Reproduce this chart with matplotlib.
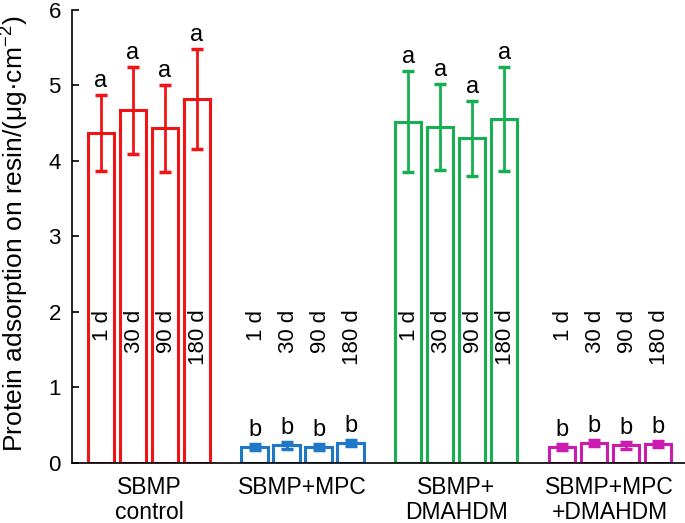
import numpy as np
import matplotlib
matplotlib.use('Agg')
import matplotlib.pyplot as plt

plt.rcParams['font.family'] = ['Liberation Sans', 'DejaVu Sans']
plt.rcParams['mathtext.default'] = 'regular'

# datos
grupos = ['SBMP\ncontrol', 'SBMP+MPC', 'SBMP+\nDMAHDM', 'SBMP+MPC\n+DMAHDM']
dias = ['1 d', '30 d', '90 d', '180 d']
colores = ['#F01414', '#1F77C8', '#17B050', '#CC1BB0']
medias = [
    [4.37, 4.67, 4.43, 4.82],
    [0.21, 0.23, 0.21, 0.26],
    [4.52, 4.45, 4.30, 4.56],
    [0.21, 0.26, 0.23, 0.25],
]
errores = [
    [0.50, 0.58, 0.58, 0.66],
    [0.04, 0.04, 0.04, 0.04],
    [0.67, 0.57, 0.50, 0.69],
    [0.04, 0.04, 0.04, 0.04],
]
letras = [['a'] * 4, ['b'] * 4, ['a'] * 4, ['b'] * 4]

fig = plt.figure(figsize=(6.85, 5.23), dpi=100)
ax = fig.add_axes([0.105, 0.115, 0.895, 0.866])

paso = 4.8
for g in range(4):
    x = g * paso + np.arange(4)
    ax.bar(x, medias[g], width=0.82, facecolor='white', edgecolor=colores[g], linewidth=2.2)
    ax.errorbar(x, medias[g], yerr=errores[g], fmt='none', ecolor=colores[g],
                elinewidth=2, capsize=4, capthick=2.5)
    for i in range(4):
        top = medias[g][i] + errores[g][i]
        ax.text(x[i], top + 0.04, letras[g][i], ha='center', va='bottom', fontsize=17)
        ax.text(x[i] + 0.05, 2.03, dias[i], rotation=90, ha='center', va='top', fontsize=16)
    ax.text(g * paso + 1.5, -0.17, grupos[g], ha='center', va='top', fontsize=16.5,
            linespacing=1.15)

ax.set_xlim(-0.906, 18.25)
ax.set_ylim(0, 6)
ax.set_yticks([0, 1, 2, 3, 4, 5, 6])
ax.set_xticks([])
ax.tick_params(axis='y', labelsize=16, length=5, width=1.2, direction='in', pad=8)
ax.spines['top'].set_visible(False)
ax.spines['right'].set_visible(False)
ax.spines['left'].set_linewidth(1.2)
ax.spines['bottom'].set_linewidth(1.2)
ax.set_ylabel('Protein adsorption on resin/(μg·cm$^{-2}$)', fontsize=19)
ax.yaxis.set_label_coords(-0.066, 0.505)

fig.savefig('out.png', dpi=100)
